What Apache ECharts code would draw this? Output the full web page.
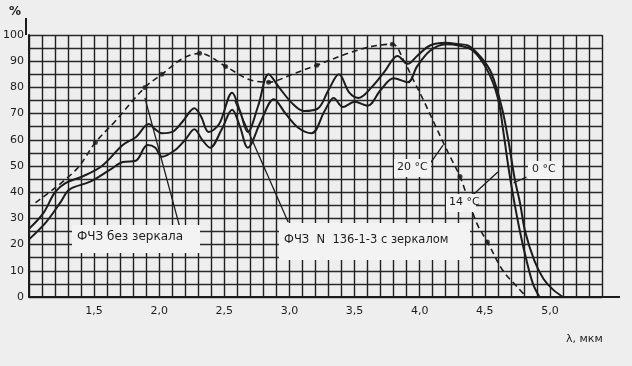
<!DOCTYPE html>
<html><head><meta charset="utf-8">
<script src="https://cdn.jsdelivr.net/npm/echarts@6/dist/echarts.min.js"></script>
<style>html,body{margin:0;padding:0;background:#eeeeee}#c{width:632px;height:366px}</style>
</head><body><div id="c"></div>
<script>
// upper solid curve
const upperX = [1.00,1.11,1.20,1.28,1.41,1.56,1.72,1.82,1.92,1.97,2.02,2.10,2.18,2.27,2.32,2.38,2.46,2.56,2.62,2.68,2.76,2.84,2.92,3.02,3.11,3.22,3.30,3.38,3.46,3.53,3.63,3.73,3.83,3.91,3.98,4.08,4.20,4.30,4.37,4.47,4.55,4.63,4.68,4.73,4.77,4.81,4.88,4.95,5.02,5.10];
const upperY = [26,32,40,43.5,46,50,58,61,66,64,62.5,63,67,72,69,63,66,78,71,63,73,85,80,74,71,72,79,85,78,76,80,86,92,89,92,96,97,96.5,96,91.5,85.5,72.5,60,45,36,25,14,7,3,0];
// lower solid curve
const lowerX = [1.00,1.13,1.24,1.31,1.47,1.62,1.72,1.82,1.91,1.97,2.02,2.12,2.20,2.27,2.33,2.39,2.48,2.56,2.62,2.68,2.78,2.88,2.97,3.07,3.17,3.27,3.34,3.41,3.50,3.60,3.70,3.80,3.91,3.98,4.08,4.20,4.30,4.41,4.52,4.60,4.64,4.68,4.72,4.77,4.82,4.87,4.92];
const lowerY = [22,28.5,36,41,44,48.5,51.5,52,58,57,53.5,56,60,64,60,57,64,71.5,65,57,67,75.5,70,64.5,62.5,71,76,72.5,74.5,73,79,83.5,82,88,94,96.5,96,94,86.5,76,64,50,38,25,14,5,0];
// dashed curve
const dashX = [1.05,1.36,1.51,1.66,1.89,2.02,2.18,2.31,2.51,2.69,2.84,3.02,3.21,3.45,3.62,3.79,3.88,3.95,4.03,4.11,4.19,4.26,4.31,4.44,4.52,4.64,4.75,4.82];
const dashY = [36,48.5,59,67,80,85,91,93,88,83,82,85,88.5,93,95.5,96.5,90,83,75,66.5,58,51,46,28,21,10,3.8,0];
// dashed curve points drawn with dots
const dashDotX = [1.51,1.89,2.02,2.31,2.51,2.84,3.21,3.79,4.31,4.52];
const dashDotY = [59,80,85,93,88,82,88.5,96.5,46,21];
// leader lines
const lead1X = [2.16,1.89], lead1Y = [26.3,76];
const lead2X = [2.99,2.58], lead2Y = [28.6,75];
const lead20X = [4.08,4.18], lead20Y = [51,58];
const lead14X = [4.41,4.60], lead14Y = [39,47.7];
const lead0X = [4.82,4.72], lead0Y = [45.8,43.5];
// tick labels
const xTickValues = [1.5,2.0,2.5,3.0,3.5,4.0,4.5,5.0];
const xTickLabels = ['1,5','2,0','2,5','3,0','3,5','4,0','4,5','5,0'];
const yTickValues = [0,10,20,30,40,50,60,70,80,90,100];
const yTickLabels = ['0','10','20','30','40','50','60','70','80','90','100'];

const pairs = (xs, ys) => xs.map((x, i) => [x, ys[i]]);
const INK = '#1c1c1c';
const FONT = 'DejaVu Sans';

function leader(xs, ys){
  return {type:'line', data:pairs(xs,ys), symbol:'none', silent:true, z:3,
    lineStyle:{color:INK, width:1.3}};
}

const chart = echarts.init(document.getElementById('c'), null, {renderer:'canvas'});
chart.setOption({
  animation:false,
  backgroundColor:'#eeeeee',
  grid:{left:26, right:30, top:35, bottom:69},
  xAxis:{type:'value', min:1.0, max:5.4, interval:0.1,
    axisLine:{show:true, lineStyle:{color:INK, width:2}},
    axisTick:{show:false},
    splitLine:{show:true, lineStyle:{color:'#202020', width:1.4}},
    axisLabel:{margin:9, color:INK, fontFamily:FONT, fontSize:11, showMinLabel:true, showMaxLabel:true,
      formatter:v=>{const k=xTickValues.findIndex(t=>Math.abs(t-v)<1e-6); return k>=0?xTickLabels[k]:'';}}},
  yAxis:{type:'value', min:0, max:100, interval:5,
    axisLine:{show:true, lineStyle:{color:INK, width:2}},
    axisTick:{show:false},
    splitLine:{show:true, lineStyle:{color:'#2a2a2a', width:1.3}},
    axisLabel:{margin:5, color:INK, fontFamily:FONT, fontSize:11,
      formatter:v=>{const k=yTickValues.findIndex(t=>Math.abs(t-v)<1e-6); return k>=0?yTickLabels[k]:'';}}},
  series:[
    {type:'line', name:'upper', data:pairs(upperX,upperY), smooth:0.35, symbol:'none', z:4,
      lineStyle:{color:INK, width:2}},
    {type:'line', name:'lower', data:pairs(lowerX,lowerY), smooth:0.35, symbol:'none', z:4,
      lineStyle:{color:INK, width:2}},
    {type:'line', name:'dashed', data:pairs(dashX,dashY), smooth:0.35, symbol:'none', z:4,
      lineStyle:{color:INK, width:1.6, type:[6,4]}},
    {type:'scatter', data:pairs(dashDotX,dashDotY), symbol:'circle', symbolSize:5, z:5,
      itemStyle:{color:INK}},
    leader(lead1X,lead1Y), leader(lead2X,lead2Y), leader(lead20X,lead20Y),
    leader(lead14X,lead14Y), leader(lead0X,lead0Y)
  ],
  graphic:[
    {type:'line', z:10, shape:{x1:26,y1:35,x2:26,y2:18}, style:{stroke:INK, lineWidth:2}},
    {type:'line', z:10, shape:{x1:602,y1:297,x2:620,y2:297}, style:{stroke:INK, lineWidth:2}},
    {type:'text', z:10, left:9, top:6, style:{text:'%', font:'bold 12px DejaVu Sans', fill:INK}},
    {type:'text', z:10, left:566, top:334, style:{text:'λ, мкм', font:'11px DejaVu Sans', fill:INK}},
    {type:'rect', z:20, shape:{x:72,y:225,width:128,height:28}, style:{fill:'#f3f3f3'}},
    {type:'text', z:21, left:77, top:231, style:{text:'ФЧЗ без зеркала', font:'12px DejaVu Sans', fill:INK}},
    {type:'rect', z:20, shape:{x:279,y:223,width:191,height:37}, style:{fill:'#f3f3f3'}},
    {type:'text', z:21, left:284, top:234, style:{text:'ФЧЗ  N  136-1-3 с зеркалом', font:'11.5px DejaVu Sans', fill:INK}},
    {type:'rect', z:20, shape:{x:394,y:159,width:37,height:18}, style:{fill:'#f3f3f3'}},
    {type:'text', z:21, left:397, top:162, style:{text:'20 °C', font:'11px DejaVu Sans', fill:INK}},
    {type:'rect', z:20, shape:{x:446,y:194,width:30,height:18}, style:{fill:'#f3f3f3'}},
    {type:'text', z:21, left:449, top:197, style:{text:'14 °C', font:'11px DejaVu Sans', fill:INK}},
    {type:'rect', z:20, shape:{x:528,y:161,width:34,height:18}, style:{fill:'#f3f3f3'}},
    {type:'text', z:21, left:532, top:164, style:{text:'0 °C', font:'11px DejaVu Sans', fill:INK}}
  ]
});
</script></body></html>
